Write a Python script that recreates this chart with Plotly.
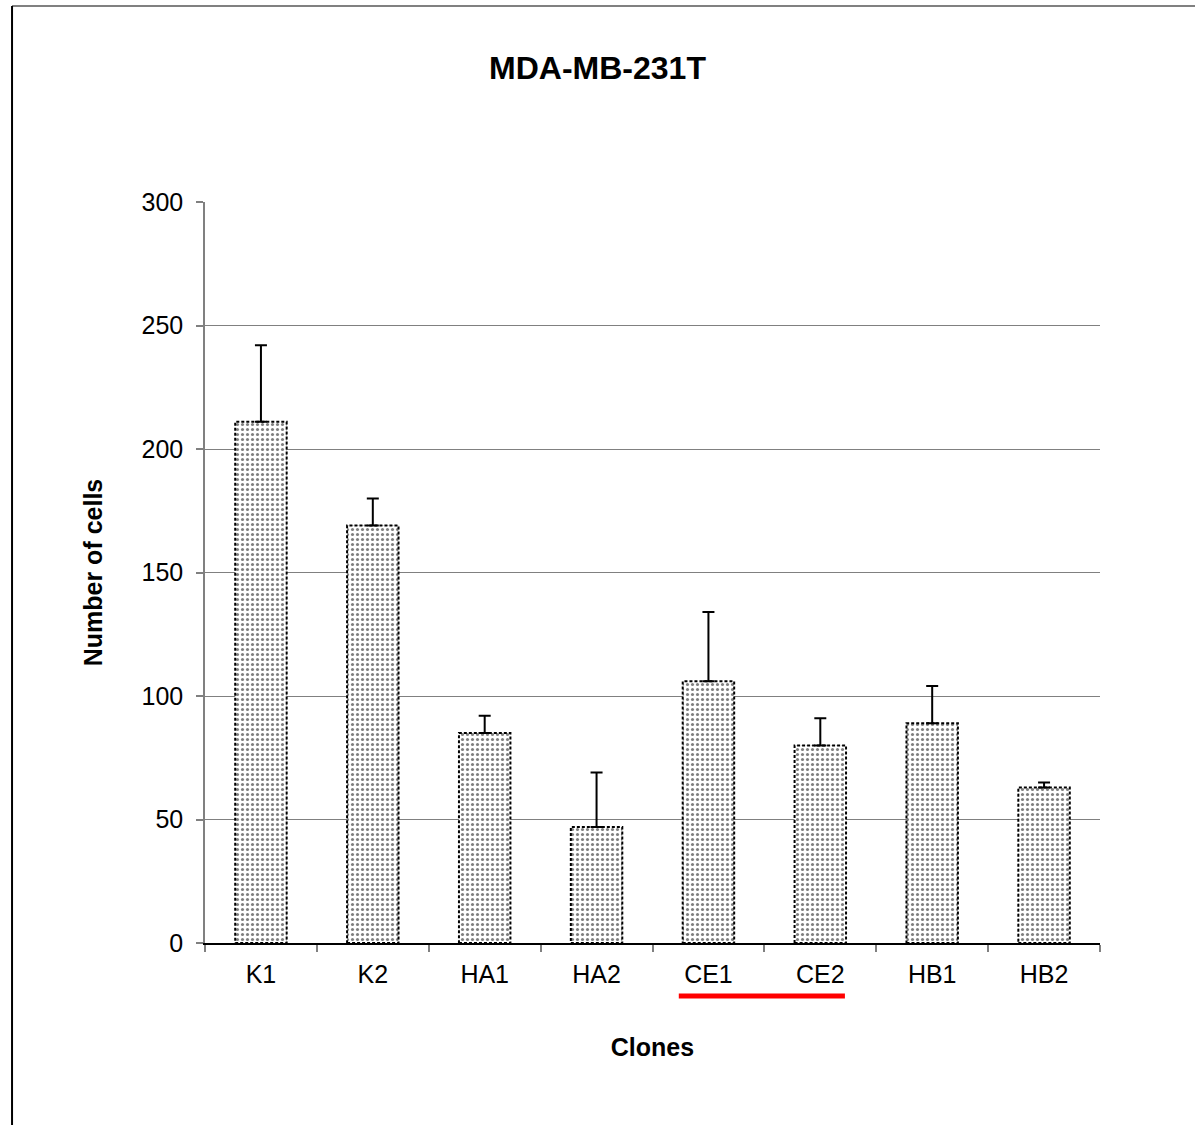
import plotly.graph_objects as go

clones = ["K1", "K2", "HA1", "HA2", "CE1", "CE2", "HB1", "HB2"]
cells = [211, 169, 85, 47, 106, 80, 89, 63]
err_plus = [31, 11, 7, 22, 28, 11, 15, 2]
y_ticks = [0, 50, 100, 150, 200, 250, 300]

BAR_W = 0.46
FONT = "Liberation Sans, Arial, sans-serif"

fig = go.Figure()
fig.add_trace(go.Bar(
    x=clones, y=cells, width=BAR_W,
    marker=dict(color="white",
                pattern=dict(shape=".", fgcolor="black", bgcolor="white", size=5, solidity=0.3),
                line=dict(width=0)),
    error_y=dict(type="data", symmetric=False, array=err_plus,
                 arrayminus=[0] * len(cells), color="black", thickness=2, width=6),
    showlegend=False,
))

shapes = []
for i, v in enumerate(cells):
    shapes.append(dict(type="rect", xref="x", yref="y",
                       x0=i - BAR_W / 2, x1=i + BAR_W / 2, y0=0, y1=v,
                       line=dict(color="black", width=2, dash="3px,2px"),
                       fillcolor="rgba(0,0,0,0)", layer="above"))

# red underline below CE1 / CE2
i1, i2 = clones.index("CE1"), clones.index("CE2")
shapes.append(dict(type="line", xref="x", yref="paper",
                   x0=i1 - 0.265, x1=i2 + 0.22, y0=-0.0715, y1=-0.0715,
                   line=dict(color="#ff0000", width=5)))
# outer frame (top and left)
shapes.append(dict(type="line", xref="paper", yref="paper",
                   x0=-0.2156, x1=1.2, y0=1.2645, y1=1.2645,
                   line=dict(color="#808080", width=2)))
shapes.append(dict(type="line", xref="paper", yref="paper",
                   x0=-0.2156, x1=-0.2156, y0=-0.3, y1=1.2645,
                   line=dict(color="black", width=2)))

fig.update_layout(
    width=1195, height=1125,
    margin=dict(l=205, r=95, t=202, b=182, autoexpand=False),
    plot_bgcolor="white", paper_bgcolor="white",
    font=dict(family=FONT, size=25, color="black"),
    title=dict(text="<b>MDA-MB-231T</b>", x=0.5, xref="container", xanchor="center",
               y=1 - 68 / 1125, yref="container", yanchor="middle",
               font=dict(family=FONT, size=32, color="black")),
    xaxis=dict(type="category", tickson="boundaries", ticks="outside", ticklen=7,
               tickcolor="#808080", tickwidth=1.5, showline=True, linecolor="black",
               linewidth=1.5, showgrid=False, tickfont=dict(size=25), ticklabelstandoff=8,
               title=dict(text="<b>Clones</b>", font=dict(size=25), standoff=52)),
    yaxis=dict(range=[0, 300], tickvals=y_ticks, ticks="outside", ticklen=7,
               tickcolor="#808080", tickwidth=1.5, showline=True, linecolor="#808080",
               linewidth=1.5, showgrid=True, gridcolor="#808080", gridwidth=1,
               zeroline=False, tickfont=dict(size=25), ticklabelstandoff=8,
               title=dict(text="<b>Number of cells</b>", font=dict(size=25), standoff=32)),
    shapes=shapes,
    bargap=0.54,
)

fig.write_html("out.html", config={"displayModeBar": False},
               post_script="document.body.style.margin='0';")
